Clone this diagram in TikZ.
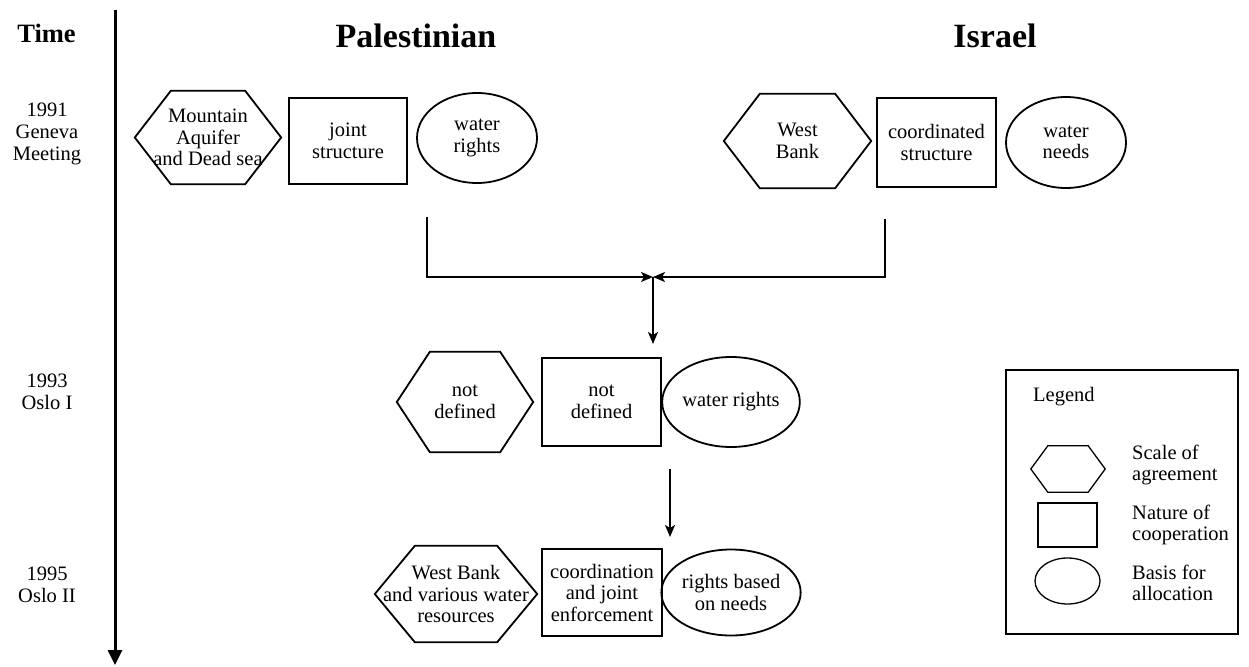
\documentclass[tikz,border=0pt]{standalone}
\usepackage{fontspec}
\setmainfont{Liberation Serif}
\usetikzlibrary{shapes.geometric,arrows.meta}
\tikzset{
  lbl/.style={font=\fontsize{20.5}{21.5}\selectfont, align=center, inner sep=0pt},
  head/.style={font=\bfseries\fontsize{34}{36}\selectfont, inner sep=0pt},
  yearlbl/.style={font=\fontsize{20.5}{22}\selectfont, align=center, inner sep=0pt},
  hexn/.style={lbl, shape=rectangle},
  rectn/.style={lbl, shape=rectangle, draw, line width=1.8pt},
  elln/.style={lbl, shape=ellipse, draw, line width=1.8pt},
  hexline/.style={line width=1.8pt, line join=miter},
  conn/.style={line width=1.6pt},
  tip/.style={-{Stealth[length=12pt,width=10pt,inset=3pt]}},
  legshape/.style={line width=1.3pt}
}
\begin{document}
\begin{tikzpicture}[x=1pt,y=-1pt]
\useasboundingbox (0,0) rectangle (1249,666);

% headers
\node[font=\bfseries\fontsize{26.5}{28}\selectfont, inner sep=0pt] (time) at (46.5,33) {Time};
\node[head] (pal) at (416,36) {Palestinian};
\node[head] (isr) at (995,36) {Israel};

% time axis
\coordinate (ttop) at (115,10);
\coordinate (tbot) at (115,665);
\draw[line width=3pt,-{Triangle[length=15pt,width=14pt]}] (ttop) -- (tbot);

% year labels
\node[yearlbl] (y1) at (47,134) {1991\\Geneva\\Meeting};
\node[yearlbl] (y2) at (47,392) {1993\\Oslo I};
\node[yearlbl] (y3) at (47,585) {1995\\Oslo II};

% row 1 Palestinian
\node[hexn, minimum width=146, minimum height=93] (pa1) at (208,137.5) {Mountain\\Aquifer\\and Dead sea};
\node[rectn, minimum width=118, minimum height=86] (pb1) at (348,141) {joint\\structure};
\node[elln, minimum width=120, minimum height=90] (pc1) at (477,138) {water\\rights};

% row 1 Israel
\node[hexn, minimum width=147, minimum height=94] (ia1) at (797.5,141) {West\\Bank};
\node[rectn, minimum width=119, minimum height=89] (ib1) at (936.5,142.5) {coordinated\\structure};
\node[elln, minimum width=120, minimum height=91] (ic1) at (1066,142.5) {water\\needs};

% row 2
\node[hexn, minimum width=136, minimum height=100] (a2) at (465,402) {not\\defined};
\node[rectn, minimum width=119, minimum height=88] (b2) at (601.5,402) {not\\defined};
\node[elln, minimum width=118, minimum height=90] (c2) at (731,402) {water rights};

% row 3
\node[hexn, minimum width=162, minimum height=96] (a3) at (456,594) {West Bank\\and various water\\resources};
\node[rectn, minimum width=120, minimum height=87] (b3) at (602,592.5) {coordination\\and joint\\enforcement};
\node[elln, minimum width=118, minimum height=86] (c3) at (731,592.5) {rights based\\on needs};

% hexagon outlines
\foreach \n/\k in {pa1/36,ia1/36,a2/33,a3/40}
  \draw[hexline] (\n.west) -- ([xshift=\k pt]\n.north west) -- ([xshift=-\k pt]\n.north east)
    -- (\n.east) -- ([xshift=-\k pt]\n.south east) -- ([xshift=\k pt]\n.south west) -- cycle;

% connectors
\coordinate (jl) at (427,217);
\coordinate (jr) at (885,219);
\coordinate (jm) at (653,277);
\coordinate (e1) at (653,344);
\coordinate (s2) at (670,469);
\coordinate (e2) at (670,537);
\draw[conn,tip] (jl) |- (jm);
\draw[conn,tip] (jr) |- (jm);
\draw[conn,tip] (jm) -- (e1);
\draw[conn,tip] (s2) -- (e2);

% legend
\node[draw, line width=2pt, minimum width=232, minimum height=264, inner sep=0pt] (lg) at (1122,502) {};
\node[lbl, anchor=west] (lgt) at (1033,397) {Legend};
\node[hexn, minimum width=74, minimum height=46] (lh) at (1068,469) {};
\draw[legshape] (lh.west) -- ([xshift=17pt]lh.north west) -- ([xshift=-17pt]lh.north east)
    -- (lh.east) -- ([xshift=-17pt]lh.south east) -- ([xshift=17pt]lh.south west) -- cycle;
\node[lbl, shape=rectangle, draw, legshape, minimum width=59, minimum height=44] (lr) at (1067.5,525) {};
\node[lbl, shape=ellipse, draw, legshape, minimum width=65, minimum height=46] (le) at (1067.5,581) {};
\node[lbl, align=left, anchor=west] (lt1) at (1132,465) {Scale of\\agreement};
\node[lbl, align=left, anchor=west] (lt2) at (1132,525) {Nature of\\cooperation};
\node[lbl, align=left, anchor=west] (lt3) at (1132,583) {Basis for\\allocation};
\end{tikzpicture}
\end{document}
